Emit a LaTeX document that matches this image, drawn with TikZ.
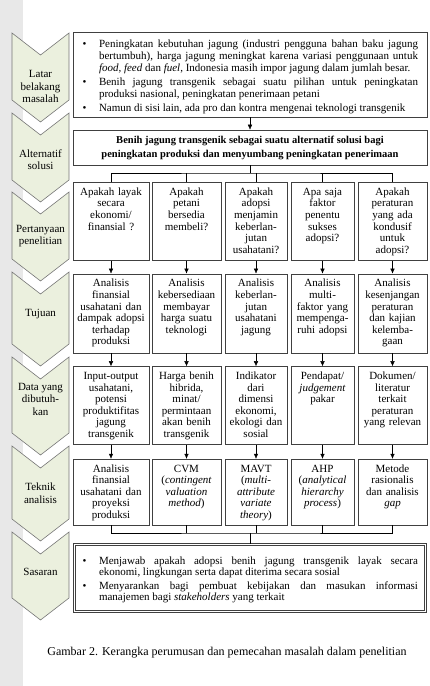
\documentclass[tikz,border=0pt]{standalone}
\usepackage{fontspec}
\setmainfont{Liberation Serif}
\usetikzlibrary{arrows.meta,positioning}

\definecolor{hijaumuda}{RGB}{235,240,222}
\definecolor{abutepi}{RGB}{118,118,118}

\newenvironment{butir}[1]{%
  \begin{list}{\textbullet}{%
    \setlength{\leftmargin}{22pt}\setlength{\rightmargin}{5pt}%
    \setlength{\labelwidth}{8pt}\setlength{\labelsep}{12.6pt}%
    \setlength{\topsep}{0pt}\setlength{\partopsep}{0pt}%
    \setlength{\parsep}{0pt}\setlength{\itemsep}{#1}}%
  \hyphenpenalty=10000 \tolerance=10000}%
  {\end{list}}

\begin{document}
\begin{tikzpicture}[x=1pt, y=-1pt, >={Latex[length=5pt,width=4.5pt]},
    every node/.append style={font=\fontsize{11}{11.6}\selectfont},
    chev/.style={draw=abutepi, fill=hijaumuda, line width=0.6pt},
    lbl/.style={align=center, inner sep=0pt, font=\fontsize{11}{12.5}\selectfont},
    kotak/.style={rectangle, draw=black!75, line width=0.6pt, align=center,
      anchor=north, inner xsep=1pt, inner ysep=3pt, text height=10pt},
    kotak tanya/.style={kotak, text depth=62pt},
    kotak tujuan/.style={kotak, text depth=63pt},
    kotak data/.style={kotak, text depth=62pt},
    kotak teknik/.style={kotak, text depth=50pt}]

    \useasboundingbox (0,0) rectangle (429,686);
    \fill[black!9] (0,0) rectangle (23,686);

    % kolom kiri
    \draw[chev] (12,33) -- (40.5,55) -- (69,33) -- (69,100) -- (40.5,122) -- (12,100) -- cycle;
    \draw[chev] (12,113) -- (40.5,135) -- (69,113) -- (69,180) -- (40.5,202) -- (12,180) -- cycle;
    \draw[chev] (12,192) -- (40.5,214) -- (69,192) -- (69,259) -- (40.5,281) -- (12,259) -- cycle;
    \draw[chev] (12,272) -- (40.5,294) -- (69,272) -- (69,344) -- (40.5,366) -- (12,344) -- cycle;
    \draw[chev] (12,357) -- (40.5,379) -- (69,357) -- (69,433) -- (40.5,455) -- (12,433) -- cycle;
    \draw[chev] (12,446) -- (40.5,468) -- (69,446) -- (69,519) -- (40.5,541) -- (12,519) -- cycle;
    \draw[chev] (12,532) -- (40.5,554) -- (69,532) -- (69,598) -- (40.5,620) -- (12,598) -- cycle;

    \node[lbl] (kiri-1) at (40.5,86.5) {Latar\\belakang\\masalah};
    \node[lbl] (kiri-2) at (40.5,159.5) {Alternatif\\solusi};
    \node[lbl] (kiri-3) at (40.5,236) {Pertanyaan\\penelitian};
    \node[lbl] (kiri-4) at (40.5,314) {Tujuan};
    \node[lbl] (kiri-5) at (40.5,399) {Data yang\\dibutuh-\\kan};
    \node[lbl] (kiri-6) at (40.5,493) {Teknik\\analisis};
    \node[lbl] (kiri-7) at (40.5,572) {Sasaran};

    % masalah dan solusi
    \node (masalah) [rectangle, draw=black!75, line width=0.6pt, minimum width=354pt,
      minimum height=85pt, text width=346pt, inner xsep=4pt, align=justify,
      font=\fontsize{11}{12}\selectfont] at (250,74.5) {%
      \begin{butir}{1.8pt}
      \item Peningkatan kebutuhan jagung (industri pengguna bahan baku jagung\linebreak
        bertumbuh), harga jagung meningkat karena variasi penggunaan untuk\linebreak
        \textit{food, feed} dan \textit{fuel}, Indonesia masih impor jagung dalam jumlah besar.
      \item Benih jagung transgenik sebagai suatu pilihan untuk peningkatan\linebreak
        produksi nasional, peningkatan penerimaan petani
      \item Namun di sisi lain, ada pro dan kontra mengenai teknologi transgenik
      \end{butir}};
    \node (solusi) [rectangle, draw=black!75, line width=0.6pt, minimum width=354pt,
      minimum height=35pt, align=center, font=\bfseries\fontsize{10.5}{14}\selectfont] at (250,147.5)
      {Benih jagung transgenik sebagai suatu alternatif solusi bagi\\peningkatan produksi dan menyumbang peningkatan penerimaan};

    % pertanyaan penelitian
    \node (tanya-1) [kotak tanya, text width=74pt] at (111,182) {Apakah layak\\secara\\ekonomi/\\finansial ?};
    \node (tanya-2) [kotak tanya, text width=67pt] at (186.5,182) {Apakah\\petani\\bersedia\\membeli?};
    \node (tanya-3) [kotak tanya, text width=60pt] at (256,182) {Apakah\\adopsi\\menjamin\\keberlan-\\jutan\\usahatani?};
    \node (tanya-4) [kotak tanya, text width=61pt] at (322.5,182) {Apa saja\\faktor\\penentu\\sukses\\adopsi?};
    \node (tanya-5) [kotak tanya, text width=67pt] at (392.5,182) {Apakah\\peraturan\\yang ada\\kondusif\\untuk\\adopsi?};

    % tujuan
    \node (tujuan-1) [kotak tujuan, text width=74pt, below=13pt of tanya-1] {Analisis\\finansial\\usahatani dan\\dampak adopsi\\terhadap\\produksi};
    \node (tujuan-2) [kotak tujuan, text width=67pt, below=13pt of tanya-2] {Analisis\\kebersediaan\\membayar\\harga suatu\\teknologi};
    \node (tujuan-3) [kotak tujuan, text width=60pt, below=13pt of tanya-3] {Analisis\\keberlan-\\jutan\\usahatani\\jagung};
    \node (tujuan-4) [kotak tujuan, text width=61pt, below=13pt of tanya-4] {Analisis\\multi-\\faktor yang\\mempenga-\\ruhi adopsi};
    \node (tujuan-5) [kotak tujuan, text width=67pt, below=13pt of tanya-5] {Analisis\\kesenjangan\\peraturan\\dan kajian\\kelemba-\\gaan};

    % data yang dibutuhkan
    \node (data-1) [kotak data, text width=74pt, below=13pt of tujuan-1] {Input-output\\usahatani,\\potensi\\produktifitas\\jagung\\transgenik};
    \node (data-2) [kotak data, text width=67pt, below=13pt of tujuan-2] {Harga benih\\hibrida,\\minat/\\permintaan\\akan benih\\transgenik};
    \node (data-3) [kotak data, text width=60pt, below=13pt of tujuan-3] {Indikator\\dari\\dimensi\\ekonomi,\\ekologi dan\\sosial};
    \node (data-4) [kotak data, text width=61pt, below=13pt of tujuan-4] {Pendapat/\\\textit{judgement}\\pakar};
    \node (data-5) [kotak data, text width=67pt, below=13pt of tujuan-5] {Dokumen/\\literatur\\terkait\\peraturan\\yang relevan};

    % teknik analisis
    \node (teknik-1) [kotak teknik, text width=74pt, below=14pt of data-1] {Analisis\\finansial\\usahatani dan\\proyeksi\\produksi};
    \node (teknik-2) [kotak teknik, text width=67pt, below=14pt of data-2] {CVM\\(\textit{contingent}\\\textit{valuation}\\\textit{method})};
    \node (teknik-3) [kotak teknik, text width=60pt, below=14pt of data-3] {MAVT\\(\textit{multi-}\\\textit{attribute}\\\textit{variate}\\\textit{theory})};
    \node (teknik-4) [kotak teknik, text width=61pt, below=14pt of data-4] {AHP\\(\textit{analytical}\\\textit{hierarchy}\\\textit{process})};
    \node (teknik-5) [kotak teknik, text width=67pt, below=14pt of data-5] {Metode\\rasionalis\\dan analisis\\\textit{gap}};

    % sasaran
    \node (sasaran) [rectangle, draw=black!75, double, double distance=1.6pt, line width=0.6pt,
      minimum width=351pt, minimum height=67pt, text width=346pt, inner xsep=2.5pt, align=justify,
      font=\fontsize{11}{11.2}\selectfont] at (250,578) {%
      \begin{butir}{2.8pt}
      \item Menjawab apakah adopsi benih jagung transgenik layak secara\linebreak
        ekonomi, lingkungan serta dapat diterima secara sosial
      \item Menyarankan bagi pembuat kebijakan dan masukan informasi\linebreak
        manajemen bagi \textit{stakeholders} yang terkait
      \end{butir}};

    \node (judul) [font=\fontsize{12}{14}\selectfont] at (227,653) {Gambar 2. Kerangka perumusan dan pemecahan masalah dalam penelitian};

    % penghubung
    \coordinate (cab-atas) at (250,173);
    \coordinate (cab-bawah) at (250,533);

    \draw[->] (masalah) -- (solusi);
    \draw (solusi) -- (cab-atas);
    \draw (tanya-1) |- (cab-atas) -| (tanya-5);
    \draw (tanya-2) -- (tanya-2 |- cab-atas);
    \draw (tanya-3) -- (tanya-3 |- cab-atas);
    \draw (tanya-4) -- (tanya-4 |- cab-atas);

    \draw[->] (tanya-1) -- (tujuan-1);
    \draw[->] (tanya-2) -- (tujuan-2);
    \draw[->] (tanya-3) -- (tujuan-3);
    \draw[->] (tanya-4) -- (tujuan-4);
    \draw[->] (tanya-5) -- (tujuan-5);

    \draw[->] (tujuan-1) -- (data-1);
    \draw[->] (tujuan-2) -- (data-2);
    \draw[->] (tujuan-3) -- (data-3);
    \draw[->] (tujuan-4) -- (data-4);
    \draw[->] (tujuan-5) -- (data-5);

    \draw[->] (data-1) -- (teknik-1);
    \draw[->] (data-2) -- (teknik-2);
    \draw[->] (data-3) -- (teknik-3);
    \draw[->] (data-4) -- (teknik-4);
    \draw[->] (data-5) -- (teknik-5);

    \draw (teknik-1) |- (cab-bawah) -| (teknik-5);
    \draw (teknik-2) -- (teknik-2 |- cab-bawah);
    \draw (teknik-3) -- (teknik-3 |- cab-bawah);
    \draw (teknik-4) -- (teknik-4 |- cab-bawah);
    \draw (cab-bawah) -- (sasaran);
\end{tikzpicture}
\end{document}
